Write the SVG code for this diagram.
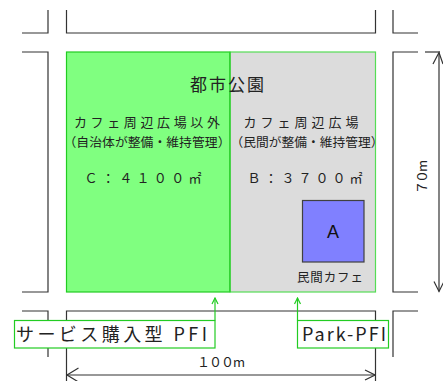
<svg xmlns="http://www.w3.org/2000/svg" width="443" height="381" viewBox="0 0 443 381">
<style>
.blk{fill:none;stroke:#333;stroke-width:1.2}
.t{font-family:"Noto Sans CJK JP","Liberation Sans",sans-serif;fill:#222}
.lbl{fill:#fff;stroke:#22cc22;stroke-width:1.2}
.ld{fill:none;stroke:#22cc22;stroke-width:1.2}
.dim{fill:none;stroke:#333;stroke-width:1.2}
</style>
<defs>
<marker id="ah" viewBox="0 0 12 12" refX="11" refY="6" markerWidth="12" markerHeight="12" markerUnits="userSpaceOnUse" orient="auto">
<path d="M1,1 L11,6 L1,11" fill="none" stroke="#333" stroke-width="1.2"/>
</marker>
<marker id="ag" viewBox="0 0 8 8" refX="7" refY="4" markerWidth="8" markerHeight="8" markerUnits="userSpaceOnUse" orient="auto">
<path d="M1,1 L7,4 L1,7" fill="none" stroke="#22cc22" stroke-width="1.2"/>
</marker>
</defs>
<rect width="443" height="381" fill="#fff"/>
<g id="blocks">
<path class="blk" d="M22,33 H48 V10"/>
<path class="blk" d="M66.5,10 V33 H375.5 V10"/>
<path class="blk" d="M393,10 V33 H418"/>
<path class="blk" d="M22,52 H48 V292 H22"/>
<path class="blk" d="M418,52 H393 V292 H418"/>
<path class="blk" d="M22,311 H48 V357"/>
<path class="blk" d="M66.5,381 V311 H375.5 V381"/>
<path class="blk" d="M418,311 H393 V357"/>
</g>
<g id="park">
<rect x="66.5" y="52" width="163.5" height="240" fill="#80ff80" stroke="#22cc22" stroke-width="1.2"/>
<rect x="230" y="52" width="145.5" height="240" fill="#dcdcdc" stroke="#55dd55" stroke-width="1.2"/>
<line x1="230" y1="52" x2="230" y2="292" stroke="#22cc22" stroke-width="1.2"/>
<text class="t" x="228" y="91" font-size="17" text-anchor="middle" letter-spacing="2">都市公園</text>
</g>
<g id="areaC">
<text class="t" x="147" y="127" font-size="13" text-anchor="middle" textLength="146" lengthAdjust="spacing">カフェ周辺広場以外</text>
<text class="t" x="147" y="147" font-size="12.5" text-anchor="middle" textLength="167" lengthAdjust="spacingAndGlyphs">（自治体が整備・維持管理）</text>
<text class="t" x="143" y="183" font-size="13" text-anchor="middle" textLength="117" lengthAdjust="spacing">Ｃ：４１００㎡</text>
</g>
<g id="areaB">
<text class="t" x="301" y="127" font-size="13" text-anchor="middle" textLength="115" lengthAdjust="spacing">カフェ周辺広場</text>
<text class="t" x="307" y="147" font-size="12.5" text-anchor="middle" textLength="153" lengthAdjust="spacingAndGlyphs">（民間が整備・維持管理）</text>
<text class="t" x="305" y="183" font-size="13" text-anchor="middle" textLength="115" lengthAdjust="spacing">Ｂ：３７００㎡</text>
</g>
<g id="cafeA">
<rect x="302.5" y="200.5" width="61.5" height="61.5" fill="#8080ff" stroke="#404040" stroke-width="1.2"/>
<text x="333" y="238" font-family="Liberation Sans,sans-serif" font-size="18" text-anchor="middle" fill="#111">A</text>
<text class="t" x="330" y="282" font-size="12.5" text-anchor="middle" textLength="66" lengthAdjust="spacing">民間カフェ</text>
</g>
<g id="label-service">
<rect class="lbl" x="14.5" y="320.5" width="200.5" height="27.5"/>
<text class="t" x="16" y="341" font-size="18" textLength="191" lengthAdjust="spacing" fill="#333">サービス購入型 PFI</text>
</g>
<g id="label-park">
<rect class="lbl" x="297.5" y="320.5" width="91" height="27.5"/>
<text class="t" x="302" y="341" font-size="18" textLength="84" lengthAdjust="spacing" fill="#333">Park-PFI</text>
</g>
<g id="connectors">
<line class="ld" x1="215" y1="320.5" x2="215" y2="298" marker-end="url(#ag)"/>
<line class="ld" x1="297.5" y1="320.5" x2="297.5" y2="298" marker-end="url(#ag)"/>
<line class="dim" x1="67" y1="375" x2="375" y2="375" marker-end="url(#ah)"/>
<path class="dim" d="M78.5,368 L67,375 L78.5,382"/>
<path class="dim" d="M425,52 H440"/>
<line class="dim" x1="439" y1="53" x2="439" y2="291.5" marker-end="url(#ah)"/>
<path class="dim" d="M433,64 L439,52.5 L443,64"/>
</g>
<g id="dims">
<text class="t" x="221" y="367" font-size="13" text-anchor="middle" textLength="48" lengthAdjust="spacing">１００m</text>
<text class="t" transform="translate(427,177) rotate(-90)" font-size="13" text-anchor="middle" textLength="34" lengthAdjust="spacing">７０m</text>
</g>
</svg>
